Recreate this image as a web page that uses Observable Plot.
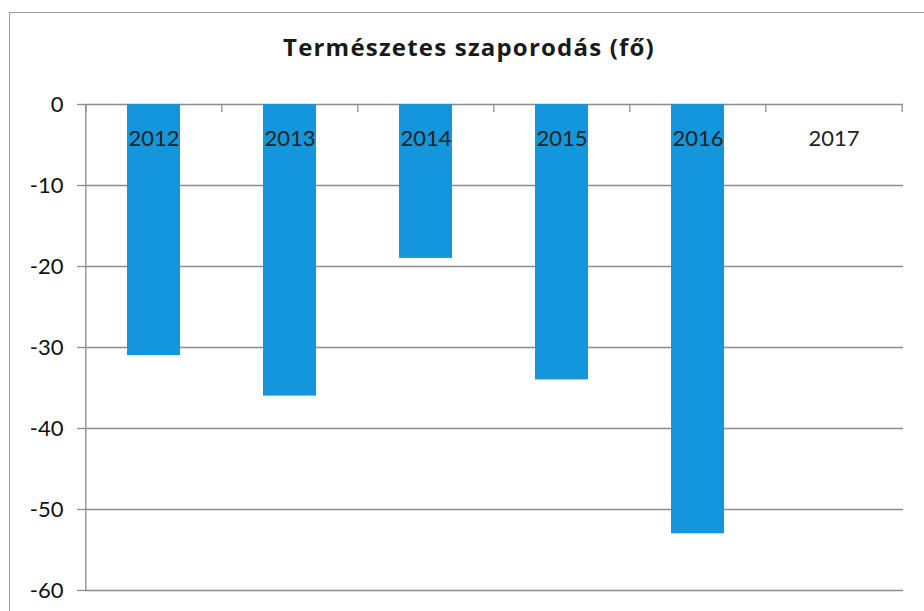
<!DOCTYPE html>
<html>
<head>
<meta charset="utf-8">
<script src="https://cdn.jsdelivr.net/npm/d3@7"></script>
<script src="https://cdn.jsdelivr.net/npm/@observablehq/plot@0.6"></script>
<style>
  html, body { margin: 0; padding: 0; background: #fff; }
  #wrap { position: relative; width: 924px; height: 611px; overflow: hidden; background: #fff; }
  #frame { position: absolute; left: 9px; top: 12px; width: 960px; height: 640px; border: 1.5px solid #9a9a9a; box-sizing: border-box; }
  #title { position: relative; height: 70px; box-sizing: border-box; padding-top: 35px; padding-left: 14px; text-align: center;
           font-family: "Open Sans", Lato, sans-serif; font-weight: bold; font-size: 24px; line-height: 1; color: #1a1a1a; letter-spacing: 1.2px; }
  #chart { position: relative; }
</style>
</head>
<body>
<div id="wrap">
  <div id="frame"></div>
  <div id="title">Természetes szaporodás (fő)</div>
  <div id="chart"></div>
</div>
<script>
const years = ["2012", "2013", "2014", "2015", "2016", "2017"];
const values = [-31, -36, -19, -34, -53, 0];
const yTicks = [0, -10, -20, -30, -40, -50, -60];

const data = years.map((year, i) => ({year, value: values[i]}));

const W = 924, H = 541, mL = 85, mR = 21, mT = 34, mB = 21;
const band = (W - mL - mR) / years.length;
const gray = "#8c8c8c";

const chart = Plot.plot({
  width: W,
  height: H,
  marginLeft: mL,
  marginRight: mR,
  marginTop: mT,
  marginBottom: mB,
  style: {fontFamily: "Lato, 'Open Sans', sans-serif", fontSize: "22px", color: "#1a1a1a", background: "transparent", overflow: "visible"},
  x: {domain: years, paddingInner: 0.61, paddingOuter: 0.305, axis: null},
  y: {domain: [-60, 0], axis: null},
  marks: [
    Plot.gridY(yTicks, {stroke: gray, strokeOpacity: 1, strokeWidth: 1.3}),
    Plot.ruleX([years[0]], {dx: -band / 2, y1: -60, y2: 0, stroke: gray, strokeWidth: 1.3}),
    Plot.ruleX(years, {dx: -band / 2, y1: 0, y2: -1, stroke: gray, strokeWidth: 1.3}),
    Plot.ruleX([years[years.length - 1]], {dx: band / 2, y1: 0, y2: -1, stroke: gray, strokeWidth: 1.3}),
    Plot.axisY(yTicks, {
      anchor: "left",
      label: null,
      tickSize: 8,
      tickPadding: 14,
      stroke: gray,
      strokeWidth: 1.3,
      fill: "#111",
      fontSize: 22,
      tickFormat: d => d === 0 ? "0" : "-" + Math.abs(d)
    }),
    Plot.barY(data, {x: "year", y: "value", fill: "#1396dc"}),
    Plot.axisX({
      anchor: "top",
      label: null,
      tickSize: 0,
      tickPadding: -34,
      lineAnchor: "middle",
      fill: "#222",
      fontSize: 22
    })
  ]
});
document.getElementById("chart").appendChild(chart);
</script>
</body>
</html>
